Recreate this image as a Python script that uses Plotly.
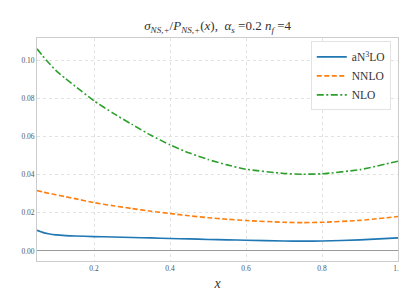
import plotly.graph_objects as go

x = [0.05, 0.065, 0.08, 0.1, 0.125, 0.15, 0.2, 0.25, 0.3, 0.35, 0.4, 0.45, 0.5, 0.55, 0.6, 0.7, 0.75, 0.8, 0.9, 1.0]
an3lo = [0.0108, 0.0097, 0.0090, 0.0084, 0.0080, 0.0078, 0.0075, 0.0073, 0.0070, 0.0068, 0.0065, 0.0063, 0.0060, 0.0058, 0.0056, 0.0052, 0.0051, 0.0052, 0.0058, 0.0068]
nnlo = [0.0316, 0.0309, 0.0302, 0.0294, 0.0284, 0.0274, 0.0253, 0.0237, 0.0222, 0.0208, 0.0196, 0.0184, 0.0174, 0.0166, 0.0159, 0.0150, 0.0148, 0.0150, 0.0160, 0.0180]
nlo = [0.1059, 0.1022, 0.0988, 0.0945, 0.0903, 0.0864, 0.0787, 0.0722, 0.0663, 0.0606, 0.0556, 0.0514, 0.0479, 0.0451, 0.0428, 0.0406, 0.0402, 0.0404, 0.0426, 0.0470]

series = [
    ("aN<sup>3</sup>LO", an3lo, "#1f77b4", "solid"),
    ("NNLO", nnlo, "#ff7f0e", "5px,2.5px"),
    ("NLO", nlo, "#2ca02c", "7px,2.5px,2px,2.5px"),
]

xticks = [0.2, 0.4, 0.6, 0.8, 1.0]
xticklabels = ["0.2", "0.4", "0.6", "0.8", "1.0"]
yticks = [0.0, 0.02, 0.04, 0.06, 0.08, 0.10]
yticklabels = ["0.00", "0.02", "0.04", "0.06", "0.08", "0.10"]

FONT = "Liberation Serif, DejaVu Serif, serif"

fig = go.Figure()
for name, ys, color, dash in series:
    fig.add_trace(go.Scatter(
        x=x, y=ys, mode="lines", name=name,
        line=dict(color=color, width=1.6, dash=dash, shape="spline", smoothing=0.5),
    ))

fig.update_layout(
    template="none",
    width=407, height=291,
    margin=dict(l=29, r=17, t=30, b=38),
    paper_bgcolor="white", plot_bgcolor="white",
    font=dict(family=FONT, color="#444"),
    title=dict(
        text="<i>σ</i><sub><i>NS,+</i></sub>/<i>P</i><sub><i>NS,+</i></sub>(<i>x</i>),  <i>α</i><sub><i>s</i></sub> =0.2 <i>n</i><sub><i>f</i></sub> =4",
        x=0.515, xanchor="center", y=0.94, yanchor="middle",
        font=dict(size=13, color="#333", family=FONT),
    ),
    showlegend=True,
    legend=dict(
        x=0.98, y=0.985, xanchor="right", yanchor="top",
        bgcolor="rgba(255,255,255,0.85)", bordercolor="#e3e3e3", borderwidth=1,
        font=dict(size=11.5, color="#333", family=FONT),
        tracegroupgap=0, itemwidth=30,
    ),
    xaxis=dict(
        range=[0.05, 1.0], tickvals=xticks, ticktext=xticklabels,
        showgrid=True, gridcolor="#e2e2e2", griddash="dot", gridwidth=1,
        showline=True, linecolor="#cccccc", linewidth=1, mirror=True,
        ticks="", tickfont=dict(size=7.5, color="#555", family=FONT),
        zeroline=False,
        title=dict(text="<i>x</i>", font=dict(size=14, color="#333", family=FONT), standoff=6),
    ),
    yaxis=dict(
        range=[-0.0053, 0.1116], tickvals=yticks, ticktext=yticklabels,
        showgrid=True, gridcolor="#e2e2e2", griddash="dot", gridwidth=1,
        showline=True, linecolor="#cccccc", linewidth=1, mirror=True,
        ticks="", tickfont=dict(size=7.5, color="#555", family=FONT),
        zeroline=True, zerolinecolor="#999999", zerolinewidth=1,
    ),
)

fig.write_html("out.html")
